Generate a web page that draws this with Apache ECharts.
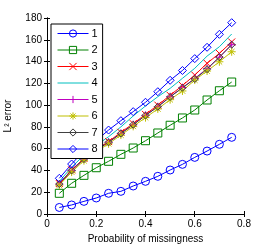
<!DOCTYPE html>
<html><head><meta charset="utf-8">
<script src="https://cdn.jsdelivr.net/npm/echarts@6/dist/echarts.min.js"></script>
<style>html,body{margin:0;padding:0;background:#fff}#c{width:270px;height:247px}</style>
</head><body><div id="c"></div>
<script>
const xValues = [0.05,0.1,0.15,0.2,0.25,0.3,0.35,0.4,0.45,0.5,0.55,0.6,0.65,0.7,0.75];
const seriesNames = ['1','2','3','4','5','6','7','8'];
const s1 = [6,8.3,11.6,14.7,19,20.8,25.7,30,34.6,40.4,45.6,52,57.8,64,70.4];
const s2 = [19,28.2,35.5,42.5,48.4,54.8,60.6,67.3,74.4,81.5,88.2,95.5,104.7,113.2,121.2];
const s3 = [28,40.5,51,59.5,66.5,75,83,91.5,100,109,118,127.6,138.4,147.5,158];
const s4 = [30,43,54,63,71,80,90,99.2,107.7,115.4,124.6,133.8,145,153.6,165.3];
const s5 = [27.5,40,50.5,58.8,66,74,82,90.6,98.5,107.7,116,124.5,133.5,144,155.5];
const s6 = [26.5,38.5,49,57.5,64.5,72.5,80.5,88.5,96.5,105,113,123,131.3,139.8,149];
const s7 = [27.5,40,50.5,58.8,65.8,74,82,90.5,98.5,107.5,116,124,133,144,155.5];
const s8 = [32.8,45.9,58.1,67.3,77.1,85.7,94,102.6,112.3,122.8,131.8,142.7,153.1,165,175.7];
const xTicks = [0,0.2,0.4,0.6,0.8];
const yTicks = [0,20,40,60,80,100,120,140,160,180];

const allData = [s1,s2,s3,s4,s5,s6,s7,s8];
const colors = ['#0000ff','#008000','#ff0000','#00bfbf','#bf00bf','#bfbf00','#404040','#0000ff'];
const symbols = ['circle','rect','path://M0,0L10,10M10,0L0,10','none','path://M5,0L5,10M0,5L10,5',
  'path://M5,0L5,10M0,5L10,5M1.5,1.5L8.5,8.5M8.5,1.5L1.5,8.5','diamond','diamond'];
const sizes = [8,8,7,0,8,8,7,8];

const font = 'Liberation Sans, Arial, sans-serif';
const chart = echarts.init(document.getElementById('c'), null, {renderer:'canvas'});
const series = allData.map((d,i)=>({
  name: seriesNames[i], type:'line', xAxisIndex:0, yAxisIndex:0,
  data: d.map((v,j)=>[xValues[j], v]),
  symbol: symbols[i], symbolSize: sizes[i], showSymbol: symbols[i] !== 'none',
  lineStyle:{color: colors[i], width:1},
  itemStyle:{color:'transparent', borderColor: colors[i], borderWidth:1},
  animation:false
}));
const legendData = seriesNames.map((n,i)=> symbols[i]==='none'
  ? {name:n, itemStyle:{color:'transparent', borderColor:'transparent', borderWidth:0}}
  : {name:n, itemStyle:{color:'transparent', borderColor:colors[i], borderWidth:1}});
const axisCommon = {
  axisLine:{show:true, lineStyle:{color:'#000', width:1}},
  axisTick:{show:true, inside:true, length:3, lineStyle:{color:'#000'}},
  splitLine:{show:false}
};
chart.setOption({
  backgroundColor:'#fff',
  animation:false,
  grid:{left:47, right:26, top:18, bottom:33, outerBoundsMode:'none', containLabel:false},
  legend:{
    data: legendData, orient:'vertical', left:51, top:24,
    backgroundColor:'#fff', borderColor:'#000', borderWidth:1, borderRadius:0,
    padding:[4,5,4,6], itemWidth:31, itemHeight:9, itemGap:5.5,
    lineStyle:{width:1},
    itemStyle:{color:'transparent', borderWidth:1},
    textStyle:{color:'#000', fontSize:11, fontFamily:font, padding:[0,0,0,-2]}
  },
  xAxis:[
    Object.assign({type:'value', min:0, max:0.8, interval:0.2, position:'bottom',
      name:'Probability of missingness', nameLocation:'middle', nameGap:19,
      nameTextStyle:{color:'#000', fontSize:10, fontFamily:font},
      axisLabel:{color:'#000', fontSize:10, fontFamily:font, margin:5,
        formatter: v => { const t = xTicks.find(x=>Math.abs(x-v)<1e-9); return t===undefined?'':String(t); }}}, axisCommon),
    Object.assign({type:'value', min:0, max:0.8, interval:0.2, position:'top', axisLabel:{show:false}}, axisCommon)
  ],
  yAxis:[
    Object.assign({type:'value', min:0, max:180, interval:20, position:'left',
      name:'L\u00b2 error', nameLocation:'middle', nameGap:34, nameRotate:90,
      nameTextStyle:{color:'#000', fontSize:10, fontFamily:font},
      axisLabel:{color:'#000', fontSize:10, fontFamily:font, margin:5,
        formatter: v => { const t = yTicks.find(y=>Math.abs(y-v)<1e-9); return t===undefined?'':String(t); }}}, axisCommon),
    Object.assign({type:'value', min:0, max:180, interval:20, position:'right', axisLabel:{show:false}}, axisCommon)
  ],
  series: series
});
</script></body></html>
